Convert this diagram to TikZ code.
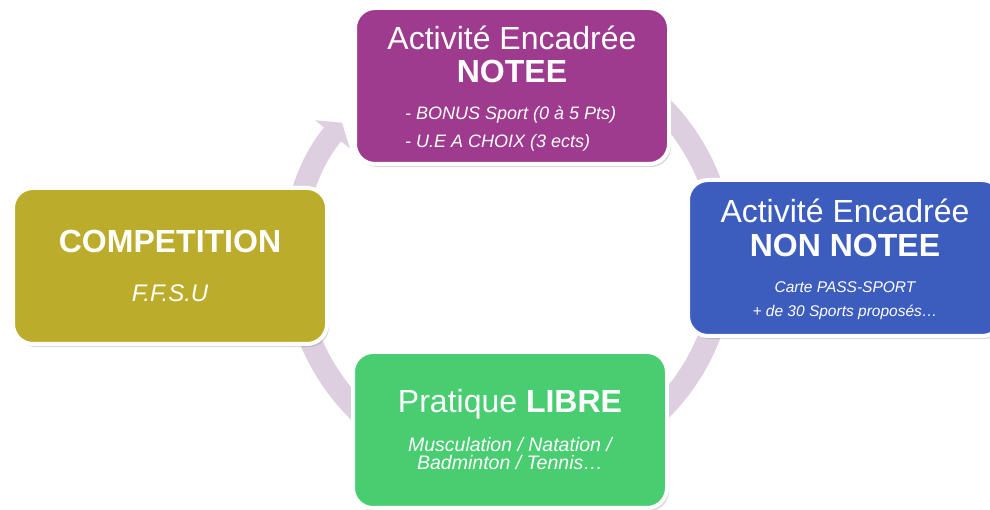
\documentclass[tikz,border=0pt]{standalone}
\usepackage{fontspec}
\setmainfont{Liberation Sans}
\usetikzlibrary{arrows.meta}
\usetikzlibrary{shadows}
\definecolor{noteepurple}{RGB}{158,59,142}
\definecolor{nonblue}{RGB}{61,93,190}
\definecolor{libregreen}{RGB}{72,205,113}
\definecolor{competolive}{RGB}{187,172,43}
\definecolor{cyclepink}{RGB}{221,206,224}
\tikzset{
	box/.style={rounded corners=20pt, draw=white, line width=4pt, minimum width=314pt, minimum height=156pt, inner sep=0pt,
		drop shadow={shadow xshift=2pt, shadow yshift=-3pt, opacity=.3}},
	head/.style={text=white, inner sep=0pt, anchor=base, font=\fontsize{32}{38}\selectfont},
	headbf/.style={head, font=\bfseries\fontsize{32}{38}\selectfont},
	sub/.style={text=white, inner sep=0pt, anchor=base, font=\itshape\fontsize{18}{22}\selectfont}
}

\begin{document}
\begin{tikzpicture}[x=1pt,y=1pt]
				\fill[white] (0,0) rectangle (990,510);
				\useasboundingbox (0,0) rectangle (990,510);
				\coordinate (O) at (509,252);
				\draw[line width=22pt, cyclepink, -{Triangle[width=44pt,length=15pt]}] (O) ++(120:215pt) arc[start angle=120, end angle=-219, radius=215pt];
				%
				\node[box, fill=noteepurple] (N) at (512,424) {};
				\node[head] (N1) at ([yshift=36pt]N.center) {Activité Encadrée};
				\node[headbf] (N2) at ([yshift=3pt]N.center) {NOTEE};
				\node[sub, anchor=base west] (N3) at ([xshift=-107pt,yshift=-34pt]N.center) {- BONUS Sport (0 à 5 Pts)};
				\node[sub, anchor=base west] (N4) at ([xshift=-107pt,yshift=-62pt]N.center) {- U.E A CHOIX (3 ects)};
				%
				\node[box, fill=nonblue] (NN) at (845,252) {};
				\node[head] (NN1) at ([yshift=35pt]NN.center) {Activité Encadrée};
				\node[headbf] (NN2) at ([yshift=1pt]NN.center) {NON NOTEE};
				\node[sub, font=\itshape\fontsize{15.5}{19}\selectfont] (NN3) at ([yshift=-35pt]NN.center) {Carte PASS-SPORT};
				\node[sub, font=\itshape\fontsize{15.5}{19}\selectfont] (NN4) at ([yshift=-59pt]NN.center) {+ de 30 Sports proposés…};
				%
				\node[box, fill=libregreen] (L) at (510,80) {};
				\node[head] (L1) at ([yshift=17pt]L.center) {Pratique \textbf{LIBRE}};
				\node[sub, font=\itshape\fontsize{19.5}{20}\selectfont] (L2) at ([yshift=-22pt]L.center) {Musculation / Natation /};
				\node[sub, font=\itshape\fontsize{19.5}{20}\selectfont] (L3) at ([yshift=-40pt]L.center) {Badminton / Tennis…};
				%
				\node[box, fill=competolive] (C) at (170,244) {};
				\node[headbf] (C1) at ([yshift=13pt]C.center) {COMPETITION};
				\node[sub, font=\itshape\fontsize{24}{28}\selectfont] (C2) at ([yshift=-36pt]C.center) {F.F.S.U};
\end{tikzpicture}
\end{document}
